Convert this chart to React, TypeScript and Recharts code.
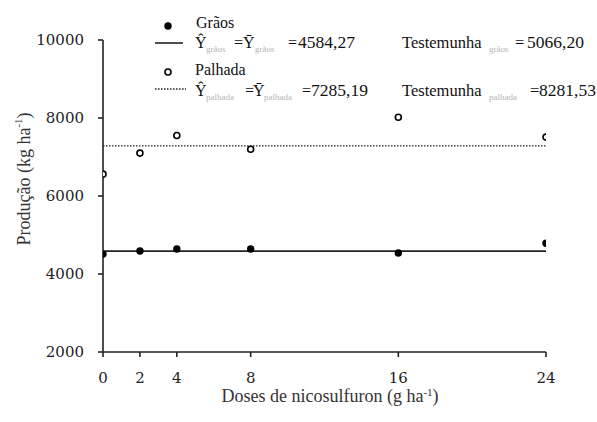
import { ScatterChart, Scatter, XAxis, YAxis, ReferenceLine } from 'recharts'

// Doses de nicosulfuron (g ha-1) e produção (kg ha-1)
const doses = [0, 2, 4, 8, 16, 24]
const graos = [4510, 4590, 4640, 4640, 4540, 4790]
const palhada = [6560, 7100, 7550, 7200, 8020, 7510]

// médias ajustadas (Ŷ = Ȳ) e testemunhas
const mediaGraos = 4584.27
const mediaPalhada = 7285.19
const testemunhaGraos = '5066,20'
const testemunhaPalhada = '8281,53'

const xTicks = [0, 2, 4, 8, 16, 24]
const yTicks = [2000, 4000, 6000, 8000, 10000]

const graosData = doses.map((d, i) => ({ dose: d, kg: graos[i] }))
const palhadaData = doses.map((d, i) => ({ dose: d, kg: palhada[i] }))

const fmt = (v: number) => v.toFixed(2).replace('.', ',')

const serif = "'Liberation Serif', 'Times New Roman', serif"
const tickStyle = { fontFamily: "'DejaVu Serif', serif", fontSize: 15, fill: '#222' }
const subColor = '#b5b5b5'

const FilledDot = (props: any) => <circle cx={props.cx} cy={props.cy} r={3.7} fill="#000" />
const OpenDot = (props: any) => (
  <circle cx={props.cx} cy={props.cy} r={3} fill="#fff" stroke="#000" strokeWidth={1.6} />
)

// legend equation: Ŷsub = Ȳsub = value
function Equation({ y, sub, xs, value }: { y: number; sub: string; xs: number[]; value: string }) {
  return (
    <text y={y} fontFamily={serif} fontSize={16} fill="#111">
      <tspan x={xs[0]}>Ŷ</tspan>
      <tspan x={xs[1]} dy={4} fontSize={9} fill={subColor}>{sub}</tspan>
      <tspan x={xs[2]} dy={-4}>=</tspan>
      <tspan x={xs[3]}>Ȳ</tspan>
      <tspan x={xs[4]} dy={4} fontSize={9} fill={subColor}>{sub}</tspan>
      <tspan x={xs[5]} dy={-4}>=</tspan>
      <tspan x={xs[6]} fontSize={17.5}>{value}</tspan>
    </text>
  )
}

function Control({ y, sub, xs, value }: { y: number; sub: string; xs: number[]; value: string }) {
  return (
    <text y={y} fontFamily={serif} fontSize={16.5} fill="#111">
      <tspan x={402}>Testemunha</tspan>
      <tspan x={xs[0]} dy={4} fontSize={9} fill={subColor}>{sub}</tspan>
      <tspan x={xs[1]} dy={-4}>=</tspan>
      <tspan x={xs[2]} fontSize={17.5}>{value}</tspan>
    </text>
  )
}

function Overlay() {
  return (
    <svg width={597} height={422} style={{ position: 'absolute', left: 0, top: 0, pointerEvents: 'none' }}>
      <circle cx={168} cy={26} r={3.7} fill="#000" />
      <text x={196} y={28} fontFamily={serif} fontSize={16} fill="#111">Grãos</text>
      <line x1={155} x2={183} y1={43} y2={43} stroke="#222" strokeWidth={1.6} />
      <Equation y={48} sub="grãos" xs={[195, 206, 234, 243, 255, 288, 298]} value={fmt(mediaGraos)} />
      <Control y={48} sub="grãos" xs={[489, 515, 527]} value={testemunhaGraos} />

      <circle cx={168} cy={72} r={3} fill="#fff" stroke="#000" strokeWidth={1.6} />
      <text x={195} y={75} fontFamily={serif} fontSize={16} fill="#111">Palhada</text>
      <line x1={155} x2={186} y1={89} y2={89} stroke="#222" strokeWidth={1.3} strokeDasharray="1.5 1.5" />
      <Equation y={96} sub="palhada" xs={[195, 206, 245, 253, 264, 302, 311]} value={fmt(mediaPalhada)} />
      <Control y={96} sub="palhada" xs={[489, 530, 539]} value={testemunhaPalhada} />

      <text
        x={24}
        y={179}
        transform="rotate(-90 24 179)"
        textAnchor="middle"
        dominantBaseline="central"
        fontFamily={serif}
        fontSize={18}
        fill="#333"
      >
        Produção (kg ha<tspan dy={-6} fontSize={11}>-1</tspan><tspan dy={6}>)</tspan>
      </text>
      <text x={330} y={402} textAnchor="middle" fontFamily={serif} fontSize={18} fill="#333">
        Doses de nicosulfuron (g ha<tspan dy={-6} fontSize={11}>-1</tspan><tspan dy={6}>)</tspan>
      </text>
    </svg>
  )
}

export default function App() {
  return (
    <div style={{ position: 'absolute', left: 0, top: 0, width: 597, height: 422, background: '#fff' }}>
      <ScatterChart width={597} height={422} margin={{ top: 40, right: 51, bottom: 40, left: 43 }}>
        <XAxis
          type="number"
          dataKey="dose"
          domain={[0, 24]}
          ticks={xTicks}
          height={30}
          tickSize={5}
          tickMargin={15}
          tick={tickStyle}
          axisLine={{ stroke: '#222', strokeWidth: 1.6 }}
          tickLine={{ stroke: '#222', strokeWidth: 1.6 }}
          allowDataOverflow
        />
        <YAxis
          type="number"
          dataKey="kg"
          domain={[2000, 10000]}
          ticks={yTicks}
          width={60}
          tickSize={5}
          tickMargin={14}
          tick={tickStyle}
          axisLine={{ stroke: '#222', strokeWidth: 1.6 }}
          tickLine={{ stroke: '#222', strokeWidth: 1.6 }}
          allowDataOverflow
        />
        <ReferenceLine y={mediaGraos} stroke="#222" strokeWidth={1.8} />
        <ReferenceLine y={mediaPalhada} stroke="#222" strokeWidth={1.3} strokeDasharray="1.5 1.5" />
        <Scatter data={palhadaData} shape={OpenDot} isAnimationActive={false} />
        <Scatter data={graosData} shape={FilledDot} isAnimationActive={false} />
      </ScatterChart>
      <Overlay />
    </div>
  )
}
